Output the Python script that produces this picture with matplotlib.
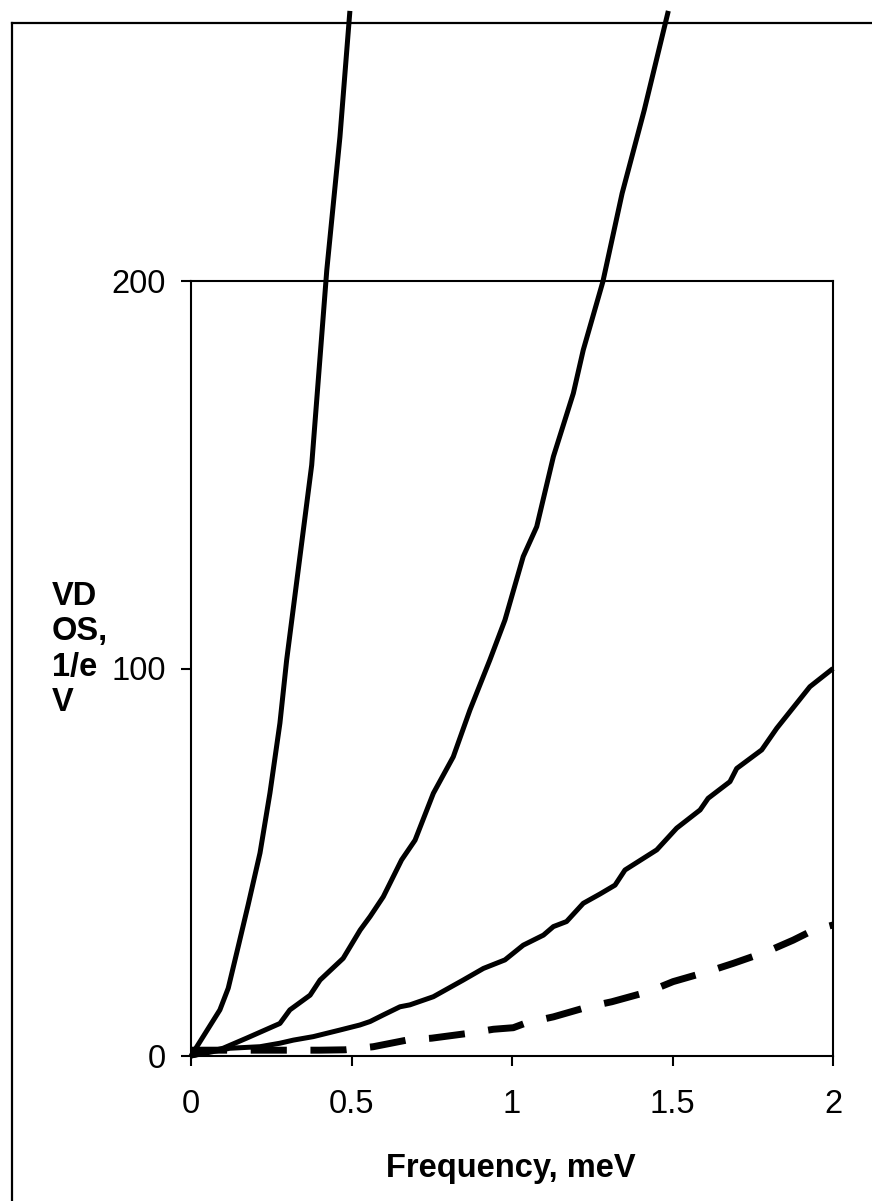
import matplotlib
matplotlib.use("Agg")
import matplotlib.pyplot as plt
from matplotlib.lines import Line2D

plt.rcParams['font.family'] = ['Liberation Sans', 'DejaVu Sans']

# Data
x1 = [0.0, 0.090, 0.116, 0.147, 0.178, 0.215, 0.246, 0.277, 0.298, 0.376, 0.423, 0.464, 0.495]
y1 = [0.0, 11.9, 17.5, 28.2, 39.0, 52.4, 67.9, 85.9, 102.2, 152.5, 202.8, 237.2, 269.7]

x2 = [0.0, 0.10, 0.173, 0.277, 0.308, 0.371, 0.402, 0.474, 0.527, 0.558, 0.599, 0.656, 0.698, 0.755,
      0.817, 0.869, 0.931, 0.978, 1.035, 1.077, 1.129, 1.191, 1.222, 1.283, 1.343, 1.412, 1.487]
y2 = [0.0, 2.0, 4.6, 8.4, 11.9, 15.7, 19.6, 25.2, 32.5, 36.0, 41.1, 50.6, 55.7, 67.8,
      77.2, 89.3, 102.2, 112.5, 128.9, 136.6, 154.7, 171.0, 182.2, 199.8, 222.6, 244.1, 269.7]

x3 = [0.0, 0.121, 0.215, 0.277, 0.319, 0.381, 0.464, 0.526, 0.558, 0.599, 0.651, 0.682, 0.755, 0.848,
      0.911, 0.978, 1.035, 1.098, 1.129, 1.170, 1.222, 1.274, 1.321, 1.352, 1.451, 1.513, 1.586,
      1.611, 1.679, 1.700, 1.778, 1.825, 1.928, 1.954, 2.0]
y3 = [0.0, 2.0, 2.4, 3.3, 4.1, 5.0, 6.7, 8.0, 8.9, 10.6, 12.7, 13.2, 15.3, 19.6,
      22.6, 24.8, 28.6, 31.2, 33.4, 34.7, 39.4, 41.8, 44.1, 48.0, 53.2, 58.8, 63.5,
      66.5, 70.8, 74.2, 79.0, 84.6, 95.3, 97.0, 100.0]

x4 = [0.0, 0.1, 0.2, 0.3, 0.4, 0.48, 0.568, 0.672, 0.75, 0.869, 0.942, 1.004, 1.046, 1.129, 1.238,
      1.311, 1.425, 1.502, 1.611, 1.689, 1.793, 1.876, 1.939, 2.0]
y4 = [1.5, 1.5, 1.5, 1.5, 1.5, 1.6, 2.4, 4.1, 4.6, 5.9, 6.9, 7.3, 8.6, 10.1, 12.7,
      14.0, 16.6, 19.2, 21.8, 23.9, 26.9, 29.9, 32.5, 33.8]

xticks = [0, 0.5, 1, 1.5, 2]
xtick_labels = ['0', '0.5', '1', '1.5', '2']
yticks = [0, 100, 200]
ytick_labels = ['0', '100', '200']

W, H = 872, 1201
fig = plt.figure(figsize=(W / 100, H / 100), dpi=100)
fig.patch.set_facecolor('white')

ax = fig.add_axes([191 / W, (H - 1056) / H, (833 - 191) / W, 775 / H])
ax.set_xlim(0, 2)
ax.set_ylim(0, 200)

for xs, ys in [(x1, y1), (x2, y2), (x3, y3)]:
    ax.plot(xs, ys, color='black', lw=3.6, clip_on=False, solid_joinstyle='round',
            solid_capstyle='butt')
ax.plot(x4, y4, color='black', lw=5, dashes=(5.2, 3.4), clip_on=False,
        dash_capstyle='butt')

for s in ax.spines.values():
    s.set_linewidth(1.5)
    s.set_color('black')

ax.set_xticks(xticks)
ax.set_xticklabels(xtick_labels)
ax.set_yticks(yticks)
ax.set_yticklabels(ytick_labels)
ax.tick_params(axis='both', direction='out', length=7, width=1.5, labelsize=23.5, colors='black')
ax.tick_params(axis='x', pad=17)
ax.tick_params(axis='y', pad=11)

# y label (wrapped as in reference)
fig.text(52 / W, (H - 649.5) / H, "VD\nOS,\n1/e\nV", fontsize=23.5, fontweight='bold',
         ha='left', va='center', multialignment='left', linespacing=1.17)
# x label
fig.text(511 / W, (H - 1177) / H, "Frequency, meV", fontsize=23.5, fontweight='bold',
         ha='center', va='baseline')

# outer frame (partially visible)
fx = 11.7 / W
fy = (H - 23) / H
fig.add_artist(Line2D([fx, 1.0], [fy, fy], transform=fig.transFigure, color='black', lw=1.6))
fig.add_artist(Line2D([fx, fx], [0.0, fy], transform=fig.transFigure, color='black', lw=1.6))

fig.savefig('out.png', dpi=100)
